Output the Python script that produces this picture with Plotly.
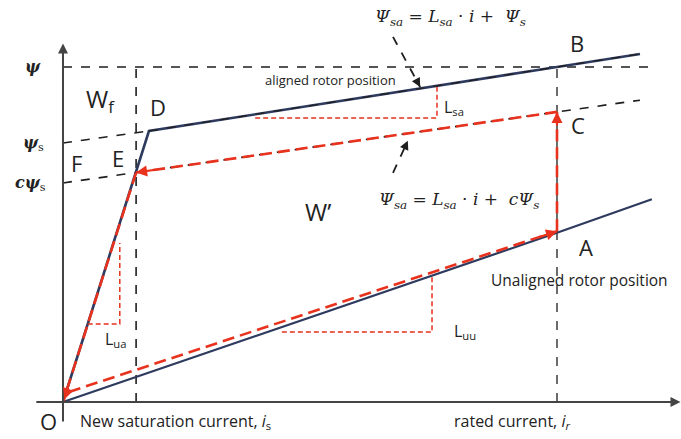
import plotly.graph_objects as go

W, H = 681, 439
# ---- data (current in units of rated current, flux in units of psi at B) ----
i_s = 0.148            # new saturation current
i_r = 1.0              # rated current
psi_top = 1.0          # psi level (B)
psi_s = 0.773
c_psi_s = 0.654

aligned_i = [0.0, 0.174, 1.0, 1.168]
aligned_psi = [0.0, 0.809, 1.0, 1.039]
unaligned_i = [0.0, 1.0, 1.192]
unaligned_psi = [0.0, 0.505, 0.605]

psi_s_line_i = [0.0, 0.174]
psi_s_line_psi = [0.773, 0.809]
cpsi_line_i = [0.0, 0.148, 1.0, 1.168]
cpsi_line_psi = [0.654, 0.685, 0.866, 0.901]

# red energy-conversion path O->A->C->E->O
path_OA_i = [0.012, 1.0]
path_OA_psi = [0.03, 0.51]
path_AC_i = [1.0, 1.0]
path_AC_psi = [0.51, 0.866]
path_CE_i = [1.0, 0.148]
path_CE_psi = [0.866, 0.685]
path_EO_i = [0.148, 0.0]
path_EO_psi = [0.685, 0.0]

# slope triangles
tri_sa_i = [0.389, 0.757, 0.757]
tri_sa_psi = [0.848, 0.848, 0.94]
tri_ua_i = [0.05, 0.115, 0.115]
tri_ua_psi = [0.233, 0.233, 0.475]
tri_uu_i = [0.443, 0.747, 0.747]
tri_uu_psi = [0.209, 0.209, 0.381]

# callout arrows for equations
call1_i = [0.668, 0.723]
call1_psi = [1.09, 0.94]
call2_i = [0.668, 0.698]
call2_psi = [0.684, 0.78]

XR = [-0.1275, 1.251]
YR = [-0.1104, 1.2]

NAVY = "#2e3a5e"
RED = "#e8321e"
BLK = "#1e1e1e"
TXT = "#222222"
SANS = "Open Sans"
SERIF = "DejaVu Serif"

fig = go.Figure()

def line(x, y, color, width, dash="solid"):
    fig.add_trace(go.Scatter(x=x, y=y, mode="lines", hoverinfo="skip",
                             line=dict(color=color, width=width, dash=dash),
                             showlegend=False))

# black dashed guides
line([0, 1.19], [psi_top, psi_top], BLK, 1.6, "dash")
line([i_s, i_s], [0, psi_top], BLK, 1.6, "dash")
line([i_r, i_r], [0, psi_top], BLK, 1.3, "dash")
line(psi_s_line_i, psi_s_line_psi, BLK, 1.6, "dash")
line(cpsi_line_i, cpsi_line_psi, BLK, 1.6, "dash")

# solid characteristics
line(aligned_i, aligned_psi, NAVY, 2.6)
line(unaligned_i, unaligned_psi, NAVY, 2.2)
line(aligned_i[1:], aligned_psi[1:], BLK, 1.2, "dash")

# red path
for xi, yi in [(path_OA_i, path_OA_psi), (path_AC_i, path_AC_psi),
               (path_CE_i, path_CE_psi), (path_EO_i, path_EO_psi)]:
    line(xi, yi, RED, 2.6, "12px,6px")

# slope triangles
for xi, yi in [(tri_sa_i, tri_sa_psi), (tri_ua_i, tri_ua_psi), (tri_uu_i, tri_uu_psi)]:
    line(xi, yi, RED, 1.5, "5px,3px")

# callouts
line(call1_i, call1_psi, BLK, 1.8, "dash")
line(call2_i, call2_psi, BLK, 1.8, "dash")

def arrow(x, y, ax, ay, color, width=2, size=1.1, head=2):
    fig.add_annotation(x=x, y=y, ax=ax, ay=ay, xref="x", yref="y", axref="x", ayref="y",
                       showarrow=True, arrowhead=head, arrowsize=size, arrowwidth=width,
                       arrowcolor=color, text="")

# axes
arrow(1.25, 0, -0.057, 0, "#444444", 2, 1.0, 2)
arrow(0, 1.07, 0, -0.063, "#444444", 2, 1.0, 2)

# red arrowheads
arrow(path_OA_i[1], path_OA_psi[1], 0.96, 0.49, RED, 2.2, 1.0, 2)
arrow(path_AC_i[1], path_AC_psi[1], 1.0, 0.82, RED, 2.2, 1.0, 2)
arrow(path_CE_i[1], path_CE_psi[1], 0.19, 0.694, RED, 2.2, 1.0, 2)
arrow(0.003, 0.008, 0.012, 0.045, RED, 2.2, 1.0, 2)
# callout heads
arrow(call1_i[1], call1_psi[1], 0.715, 0.962, BLK, 1.8, 1.0, 2)
arrow(call2_i[1], call2_psi[1], 0.692, 0.76, BLK, 1.8, 1.0, 2)

def text(px, py, s, size=20, family=SANS, xanchor="center", color=TXT):
    fig.add_annotation(x=px / W, y=1 - py / H, xref="paper", yref="paper", text=s,
                       showarrow=False, xanchor=xanchor, yanchor="middle",
                       font=dict(size=size, family=family, color=color))

text(33, 67, "<b><i>ψ</i></b>", 16, SERIF)
text(33, 143, "<b><i>ψ</i></b><sub>s</sub>", 16, SERIF)
text(30, 183, "<b><i>cψ</i></b><sub>s</sub>", 16, SERIF)
text(48, 421, "O", 22)
text(78, 421, "New saturation current, <i>i</i><sub>s</sub>", 16, xanchor="left")
text(452, 421, "rated current, <i>i</i><sub><i>r</i></sub>", 16, xanchor="left")
text(100, 100, "W<sub>f</sub>", 24)
text(158, 107, "D", 22)
text(76, 163, "F", 22)
text(118, 158, "E", 22)
text(578, 125, "C", 22)
text(577, 43, "B", 22)
text(586, 247, "A", 22)
text(318, 212, "W’", 24)
text(330, 80, "aligned rotor position", 13)
text(579, 280, "Unaligned rotor position", 15.5)
text(454, 108, "L<sub>sa</sub>", 16)
text(115, 339, "L<sub>ua</sub>", 16)
text(465, 331, "L<sub>uu</sub>", 16)
text(450, 18, "<i>Ψ<sub>sa</sub></i> = <i>L<sub>sa</sub></i> · <i>i</i> +  <i>Ψ<sub>s</sub></i>", 17, SERIF)
text(459, 200, "<i>Ψ<sub>sa</sub></i> = <i>L<sub>sa</sub></i> · <i>i</i> +  <i>cΨ<sub>s</sub></i>", 17, SERIF)

fig.update_layout(width=W, height=H, margin=dict(l=0, r=0, t=0, b=0),
                  paper_bgcolor="white", plot_bgcolor="white", showlegend=False,
                  xaxis=dict(range=XR, visible=False, fixedrange=True),
                  yaxis=dict(range=YR, visible=False, fixedrange=True))
fig.write_html("out.html", config={"displayModeBar": False},
               post_script="document.body.style.margin='0px';")
